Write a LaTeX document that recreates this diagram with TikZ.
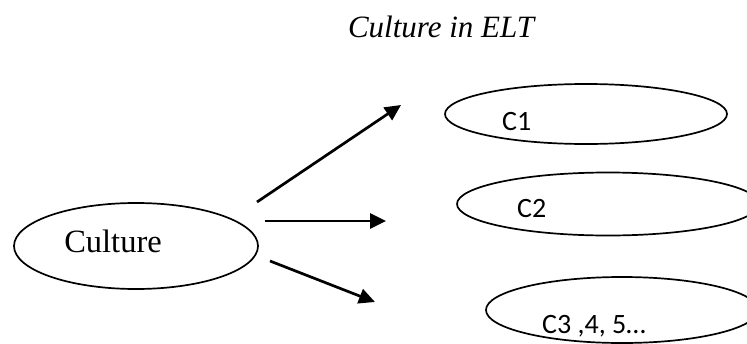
\documentclass[tikz,border=0pt]{standalone}
\usepackage{fontspec}
\setmainfont{Liberation Serif}
\newfontfamily\calibrifont{Carlito}
\usetikzlibrary{shapes.geometric,arrows.meta}

\begin{document}
\begin{tikzpicture}[
  x=1pt, y=-1pt,
  bubble/.style={draw, ellipse, line width=1.7pt, inner sep=0pt},
  serif/.style={font=\fontsize{32.5}{38}\selectfont, inner sep=0pt, anchor=base},
  clabel/.style={font=\calibrifont\fontsize{28}{33}\selectfont, inner sep=0pt, anchor=base west},
  flow/.style={-{Triangle[length=16pt,width=15pt]}, line width=2.7pt},
]
  \useasboundingbox (0,0) rectangle (747,343);
  \clip (0,0) rectangle (747,343);

  \node[serif, font=\itshape\fontsize{31}{36}\selectfont] (title) at (441,37) {Culture in ELT};

  % source and targets
  \node[bubble, minimum width=244pt, minimum height=86pt] (cult) at (136,246) {};
  \node[serif] (culttext) at (113,252) {Culture};

  \node[bubble, minimum width=282pt, minimum height=60pt] (c1) at (586,114) {};
  \node[clabel] (c1text) at (502,130) {C1};
  \node[bubble, minimum width=302pt, minimum height=63pt] (c2) at (608,204) {};
  \node[clabel] (c2text) at (517,217) {C2};
  \node[bubble, minimum width=272pt, minimum height=66pt] (c3) at (622,310) {};
  \node[clabel] (c3text) at (542,333) {C3 ,4, 5\ldots};

  % free-standing arrow ends
  \coordinate (a1) at (257,202);
  \coordinate (b1) at (401,105);
  \coordinate (a2) at (265,221);
  \coordinate (b2) at (386,221);
  \coordinate (a3) at (270,261);
  \coordinate (b3) at (375,302);

  \draw[flow] (a1) -- (b1);
  \draw[flow] (a2) -- (b2);
  \draw[flow] (a3) -- (b3);
\end{tikzpicture}
\end{document}
